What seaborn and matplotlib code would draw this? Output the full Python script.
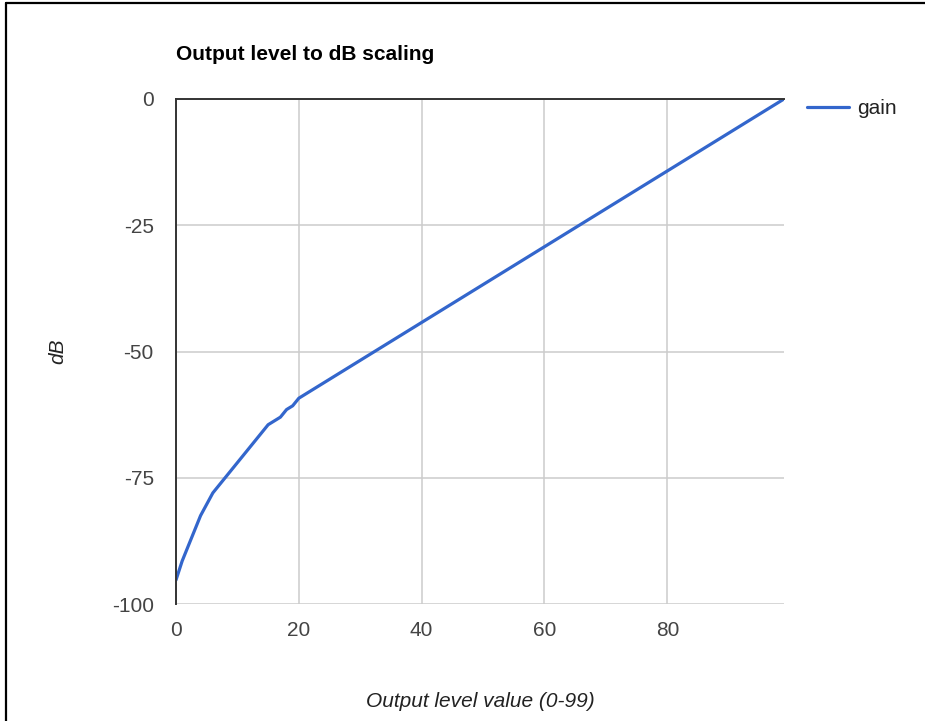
# -*- coding: utf-8 -*-
"""
Output level -> dB scaling (courbe de gain).
"""

import matplotlib.pyplot as plt
import pandas as pd
import seaborn as sns
from matplotlib.lines import Line2D

# ---------------------------------------------------------------------------
# Données
# ---------------------------------------------------------------------------
niveaux = [0, 1, 2, 3, 4, 5, 6, 7, 8, 9, 10,
           11, 12, 13, 14, 15, 16, 17, 18, 19, 20, 99]
gain_db = [-95.25, -91.5, -88.5, -85.5, -82.5, -80.25, -78.0, -76.5, -75.0, -73.5, -72.0,
           -70.5, -69.0, -67.5, -66.0, -64.5, -63.75, -63.0, -61.5, -60.75, -59.25, 0.0]
x_ticks = [0, 20, 40, 60, 80]
y_ticks = [0, -25, -50, -75, -100]

# ---------------------------------------------------------------------------
# Style
# ---------------------------------------------------------------------------
sns.set_theme(style="whitegrid")
plt.rcParams["font.family"] = ["Liberation Sans", "DejaVu Sans"]
plt.rcParams["axes.unicode_minus"] = False

BLEU = "#3366cc"
GRIS_TXT = "#444444"

df = pd.DataFrame({"level": niveaux, "gain": gain_db})

fig = plt.figure(figsize=(9.25, 7.21), dpi=100, facecolor="white")
ax = fig.add_axes([176 / 925, 1 - 604 / 721, 608 / 925, 505 / 721])

sns.lineplot(data=df, x="level", y="gain", color=BLEU, linewidth=2.3,
             label="gain", ax=ax)

ax.set_xlim(0, 99)
ax.set_ylim(-100, 0)
ax.set_xticks(x_ticks)
ax.set_yticks(y_ticks)
ax.grid(True, color="#cccccc", linewidth=1.1)
ax.tick_params(axis="both", labelsize=15, colors=GRIS_TXT, length=0)
ax.tick_params(axis="y", pad=16)
ax.tick_params(axis="x", pad=12)

for cote in ["right", "bottom"]:
    ax.spines[cote].set_visible(False)
for cote in ["left", "top"]:
    ax.spines[cote].set_color("#333333")
    ax.spines[cote].set_linewidth(1.4)

ax.set_xlabel("Output level value (0-99)", fontsize=15, style="italic",
              color="#222222", labelpad=38)
ax.set_ylabel("dB", fontsize=15, style="italic", color="#222222", labelpad=32)

fig.text(176 / 925, 1 - 54 / 721, "Output level to dB scaling", fontsize=15,
         fontweight="bold", color="#000000", ha="left", va="center")

ax.legend(loc="center left", bbox_to_anchor=(807 / 925, 1 - 109 / 721),
          bbox_transform=fig.transFigure, frameon=False, fontsize=15,
          borderpad=0, borderaxespad=0, handlelength=2.0, handletextpad=0.4,
          labelcolor="#222222")

# cadre de la capture (haut et gauche)
fig.add_artist(Line2D([6 / 925, 1], [1 - 2.5 / 721, 1 - 2.5 / 721],
                      color="black", linewidth=1.6, transform=fig.transFigure))
fig.add_artist(Line2D([6 / 925, 6 / 925], [0, 1 - 2.5 / 721],
                      color="black", linewidth=1.6, transform=fig.transFigure))

fig.savefig("out.png", dpi=100, facecolor="white")
plt.close(fig)
